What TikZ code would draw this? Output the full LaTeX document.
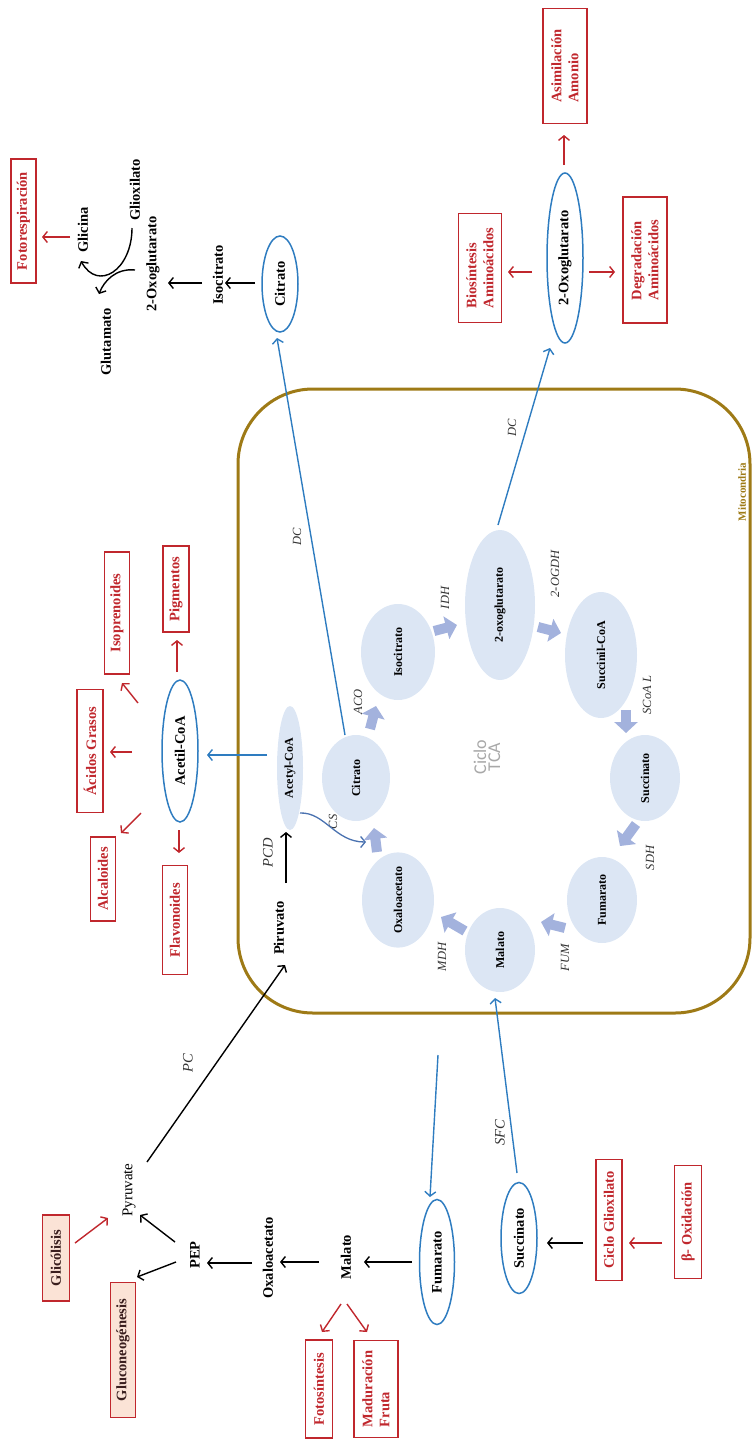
\documentclass[tikz,border=0pt]{standalone}
\usepackage{fontspec}
\setmainfont{Liberation Serif}
\newfontfamily\calib{Carlito}
\usetikzlibrary{shapes.geometric,arrows.meta}
\definecolor{bred}{HTML}{C0272D}
\definecolor{obl}{HTML}{2E7CC0}
\definecolor{mito}{HTML}{9E7A16}
\definecolor{ifill}{HTML}{DCE6F4}
\definecolor{blkc}{HTML}{A3B2DD}
\definecolor{peach}{HTML}{FBE3D6}
\definecolor{darktxt}{HTML}{3A1E1E}
\definecolor{enzc}{HTML}{333333}
\definecolor{csc}{HTML}{4A72B0}
\definecolor{tcagray}{HTML}{A8A8A8}
\begin{document}
\begin{tikzpicture}[x=1pt,y=-1pt,
  every node/.style={rotate=90},
  rbox/.style={draw=bred, line width=1.4pt, text=bred, font=\fontsize{14.5}{17}\selectfont\bfseries, inner sep=0pt, align=left},
  pbox/.style={rbox, fill=peach, text=darktxt},
  oell/.style={ellipse, draw=obl, line width=1.5pt, font=\fontsize{14.5}{17}\selectfont\bfseries, inner sep=0pt},
  iell/.style={ellipse, fill=ifill, font=\fontsize{12}{14}\selectfont\bfseries, inner sep=0pt},
  lbl/.style={font=\fontsize{14.5}{17}\selectfont\bfseries, inner sep=1pt},
  enz/.style={font=\fontsize{12.5}{14}\selectfont\itshape, text=enzc, inner sep=0pt},
  enzb/.style={font=\fontsize{14.5}{17}\selectfont\itshape, text=enzc, inner sep=0pt},
  arr/.style={line width=1.4pt, -{Straight Barb[length=4.5pt,width=11pt]}},
  rarr/.style={arr, draw=bred},
  barr/.style={arr, draw=obl},
  blk/.style={draw=blkc, line width=10pt, -{Triangle[length=11pt,width=23pt]}},
]
\useasboundingbox (0,0) rectangle (753,1441);

% mitochondrion
\draw[mito, line width=3pt, rounded corners=75pt] (238,389) rectangle (750,1013);
\node[font=\fontsize{11}{13}\selectfont\bfseries, text=mito] (mitolbl) at (742,492) {Mitocondria};
\node[font=\calib\fontsize{18}{14}\selectfont, text=tcagray, align=center] (tca) at (487,757) {Ciclo\\TCA};

% top-left group
\node[rbox, minimum width=124pt, minimum height=25pt] (fotoresp) at (23.5,221) {Fotorespiración};
\node[lbl] (glic) at (83,230) {Glicina};
\node[lbl] (glio) at (135,190) {Glioxilato};
\node[lbl] (oxoT) at (153,264) {2-Oxoglutarato};
\node[lbl] (glut) at (106,342) {Glutamato};
\node[lbl] (isoT) at (218,275) {Isocitrato};
\node[oell, minimum width=96pt, minimum height=36pt] (citO) at (280,284) {Citrato};

% top-right group
\node[oell, minimum width=170pt, minimum height=36pt] (oxoO) at (565,258) {2-Oxoglutarato};
\node[rbox, minimum width=115pt, minimum height=44pt] (asim) at (565,66) {Asimilación\\Amonio};
\node[rbox, minimum width=109pt, minimum height=43pt] (bio) at (480,268) {Biosíntesis\\Aminoácidos};
\node[rbox, minimum width=126pt, minimum height=44pt] (deg) at (645,260) {Degradación\\Aminoácidos};

% acetyl-CoA group
\node[rbox, minimum width=122pt, minimum height=25pt] (isop) at (117,613) {Isoprenoides};
\node[rbox, minimum width=86pt, minimum height=26pt] (pig) at (176,589) {Pigmentos};
\node[rbox, minimum width=123pt, minimum height=26pt] (acgr) at (90,751) {Ácidos Grasos};
\node[rbox, minimum width=84pt, minimum height=25pt] (alc) at (103,879) {Alcaloides};
\node[rbox, minimum width=109pt, minimum height=25pt] (flav) at (175,920) {Flavonoides};
\node[oell, minimum width=142pt, minimum height=36pt] (acO) at (180,751) {Acetil-CoA};

% inside mitochondrion
\node[iell, minimum width=124pt, minimum height=26pt] (acI) at (290,768) {Acetyl-CoA};
\node[lbl] (piru) at (279,928) {Piruvato};
\node[iell, minimum width=86pt, minimum height=68pt] (citI) at (356,778) {Citrato};
\node[iell, minimum width=96pt, minimum height=74pt] (isoI) at (398,652) {Isocitrato};
\node[iell, minimum width=150pt, minimum height=70pt] (oxoI) at (500,605) {2-oxoglutarato};
\node[iell, minimum width=126pt, minimum height=72pt] (sucI) at (601,655) {Succinil-CoA};
\node[iell, minimum width=86pt, minimum height=70pt] (sccI) at (645,778) {Succinato};
\node[iell, minimum width=86pt, minimum height=70pt] (fumI) at (602,900) {Fumarato};
\node[iell, minimum width=84pt, minimum height=70pt] (malI) at (500,950) {Malato};
\node[iell, minimum width=86pt, minimum height=72pt] (oxaI) at (398,900) {Oxaloacetato};

% enzyme labels
\node[enz] (cs) at (333,822) {CS};
\node[enz] (aco) at (358,702) {ACO};
\node[enz] (idh) at (445,598) {IDH};
\node[enz] (ogdh) at (555,574) {2-OGDH};
\node[enz] (scoal) at (647,695) {SCoA L};
\node[enz] (sdh) at (650,858) {SDH};
\node[enz] (fum) at (565,958) {FUM};
\node[enz] (mdh) at (442,957) {MDH};
\node[enz] (dc1) at (297,537) {DC};
\node[enz] (dc2) at (512,428) {DC};
\node[enzb] (pcd) at (268,853) {PCD};
\node[enzb] (pc) at (188,1063) {PC};
\node[enzb] (sfc) at (500,1133) {SFC};

% bottom group
\node[pbox, minimum width=86pt, minimum height=27pt] (glico) at (56,1258) {Glicólisis};
\node[pbox, minimum width=135pt, minimum height=25pt] (gluco) at (123,1350) {Gluconeogénesis};
\node[font=\fontsize{15}{17}\selectfont, inner sep=1pt] (pyr) at (129,1190) {Pyruvate};
\node[lbl] (pep) at (195,1255) {PEP};
\node[lbl] (oxaT) at (268,1258) {Oxaloacetato};
\node[lbl] (malT) at (346,1257) {Malato};
\node[rbox, minimum width=98pt, minimum height=27pt] (fotos) at (319,1389) {Fotosíntesis};
\node[rbox, minimum width=97pt, minimum height=44pt] (madu) at (376,1389) {Maduración\\Fruta};
\node[oell, minimum width=125pt, minimum height=35pt] (fumO) at (437,1262) {Fumarato};
\node[oell, minimum width=111pt, minimum height=36pt] (sucO) at (519,1238) {Succinato};
\node[rbox, minimum width=121pt, minimum height=26pt] (cglio) at (609,1220) {Ciclo Glioxilato};
\node[rbox, minimum width=113pt, minimum height=27pt] (boxi) at (688,1222) {β- Oxidación};
\coordinate (fumsrc) at (438,1055);

% black arrows
\draw[arr] ([shift={(-25,-1)}]citO.center) -- ([shift={(7,8)}]isoT.center);
\draw[arr] ([shift={(-16,8)}]isoT.center) -- ([shift={(15,19)}]oxoT.center);
\draw[arr] ([shift={(-3,38)}]glio.center) .. controls (132,270) and (98,292) .. ([shift={(-2,31)}]glic.center);
\draw[arr] ([shift={(-18,6)}]oxoT.center) .. controls (116,268) and (104,281) .. ([shift={(-7,-48)}]glut.center);
\draw[arr] ([shift={(7,-45)}]piru.center) -- ([shift={(-4,64)}]acI.center);
\draw[arr] ([shift={(18,-28)}]pyr.center) -- ([shift={(6,37)}]piru.center);
\draw[arr] ([shift={(-20,-13)}]pep.center) -- ([shift={(11,25)}]pyr.center);
\draw[arr] ([shift={(-19,7)}]pep.center) -- ([shift={(14,-73)}]gluco.center);
\draw[arr] ([shift={(-16,5)}]oxaT.center) -- ([shift={(12,8)}]pep.center);
\draw[arr] ([shift={(-27,5)}]malT.center) -- ([shift={(12,4)}]oxaT.center);
\draw[arr] ([shift={(-25,0)}]fumO.center) -- ([shift={(18,5)}]malT.center);
\draw[arr] ([shift={(-26,23)}]cglio.center) -- ([shift={(28,5)}]sucO.center);

% red arrows
\draw[rarr] ([shift={(-13,7)}]glic.center) -- ([shift={(18.5,16)}]fotoresp.center);
\draw[rarr] ([shift={(-26,21)}]boxi.center) -- ([shift={(20,23)}]cglio.center);
\draw[rarr] ([shift={(19,-15)}]glico.center) -- ([shift={(-21,28)}]pyr.center);
\draw[rarr] ([shift={(-5,47)}]malT.center) -- ([shift={(3,-57)}]fotos.center);
\draw[rarr] ([shift={(1,47)}]malT.center) -- ([shift={(-9,-57)}]madu.center);
\draw[rarr] ([shift={(-48,1)}]acO.center) -- ([shift={(20,1)}]acgr.center);
\draw[rarr] ([shift={(-39,62)}]acO.center) -- ([shift={(18,-46)}]alc.center);
\draw[rarr] ([shift={(-1,79)}]acO.center) -- ([shift={(4,-67)}]flav.center);
\draw[rarr] ([shift={(-42,-48)}]acO.center) -- ([shift={(5,70)}]isop.center);
\draw[rarr] ([shift={(-3,-79)}]acO.center) -- ([shift={(1,51)}]pig.center);
\draw[rarr] ([shift={(-1,-93)}]oxoO.center) -- ([shift={(-1,69)}]asim.center);
\draw[rarr] ([shift={(-33,14)}]oxoO.center) -- ([shift={(28,4)}]bio.center);
\draw[rarr] ([shift={(24,14)}]oxoO.center) -- ([shift={(-30,12)}]deg.center);

% blue arrows
\draw[barr] ([shift={(-23,-13)}]acI.center) -- ([shift={(27,4)}]acO.center);
\draw[barr] ([shift={(-11,-43)}]citI.center) -- ([shift={(-3,54)}]citO.center);
\draw[barr] ([shift={(-2,-80)}]oxoI.center) -- ([shift={(-15,90)}]oxoO.center);
\draw[barr] (fumsrc) -- ([shift={(-7,-65)}]fumO.center);
\draw[barr] ([shift={(-2,-65)}]sucO.center) -- ([shift={(-5,48)}]malI.center);
\draw[arr, draw=csc, line width=1.3pt] ([shift={(10,45)}]acI.center) .. controls (325,812) and (335,842) .. ([shift={(-32,-58)}]oxaI.center);

% block arrows of the cycle
\draw[blk] (377,852) -- (374,828);
\draw[blk] (370,729) -- (376,706);
\draw[blk] (434,631) -- (457,625);
\draw[blk] (538,627) -- (561,633);
\draw[blk] (626,710) -- (626,733);
\draw[blk] (636,824) -- (620,846);
\draw[blk] (565,928) -- (541,922);
\draw[blk] (465,931) -- (441,917);
\end{tikzpicture}
\end{document}
